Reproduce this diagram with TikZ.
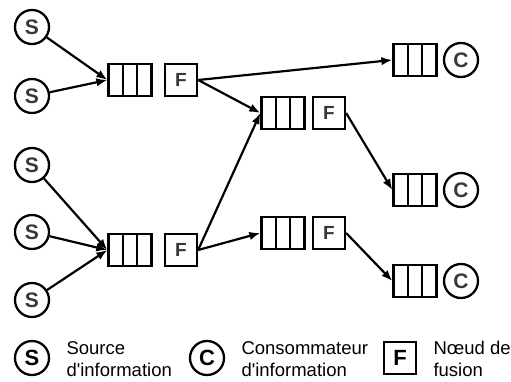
\documentclass[tikz,border=0pt]{standalone}
\usepackage{fontspec}
\setmainfont{Liberation Sans}
\usetikzlibrary{arrows.meta,calc}
\tikzset{
  src/.style={circle,draw,line width=2.3pt,minimum size=34pt,inner sep=0pt,
    font=\fontsize{21}{21}\selectfont\bfseries,text=black!78},
  queue/.style={rectangle,draw,line width=2.3pt,minimum width=43pt,minimum height=32pt,inner sep=0pt,
    path picture={\foreach \f in {1,2}
      \draw[line width=2.3pt] ($(path picture bounding box.south west)!\f/3!(path picture bounding box.south east)$)
        -- ($(path picture bounding box.north west)!\f/3!(path picture bounding box.north east)$);}},
  fus/.style={rectangle,draw,line width=2.3pt,minimum size=32pt,inner sep=0pt,
    font=\fontsize{19}{19}\selectfont\bfseries,text=black!78},
  flow/.style={-{Latex[length=11pt,width=8.5pt]},line width=2.2pt},
  legtext/.style={align=left,anchor=west,font=\fontsize{18.5}{22}\selectfont},
  legsym/.style={text=black,font=\fontsize{22}{22}\selectfont\bfseries}
}
\begin{document}
\begin{tikzpicture}[x=1pt,y=-1pt]
\useasboundingbox (0,0) rectangle (511,381);
% sources
\node[src] (s1) at (32,27) {S};
\node[src] (s2) at (32,96) {S};
\node[src] (s3) at (32,165) {S};
\node[src] (s4) at (32,232) {S};
\node[src] (s5) at (32,300) {S};
% fusion stages
\node[queue] (q1) at (130,80) {};
\node[fus] (f1) at (181,80) {F};
\node[queue] (q2) at (130,250) {};
\node[fus] (f2) at (181,250) {F};
\node[queue] (q3) at (283,113) {};
\node[fus] (f3) at (329,113) {F};
\node[queue] (q4) at (283,233) {};
\node[fus] (f4) at (329,233) {F};
% consumers
\node[queue] (k1) at (415,60) {};
\node[src] (c1) at (461,60) {C};
\node[queue] (k2) at (415,190) {};
\node[src] (c2) at (461,190) {C};
\node[queue] (k3) at (415,281) {};
\node[src] (c3) at (461,281) {C};
% flows
\draw[flow] (s1) -- (q1.west);
\draw[flow] (s2) -- (q1.west);
\draw[flow] (s3) -- (q2.west);
\draw[flow] (s4) -- (q2.west);
\draw[flow] (s5) -- (q2.west);
\draw[flow] (f1.east) -- (k1.west);
\draw[flow] (f1.east) -- (q3.west);
\draw[flow] (f2.east) -- (q3.west);
\draw[flow] (f2.east) -- (q4.west);
\draw[flow] (f3.east) -- (k2.west);
\draw[flow] (f4.east) -- (k3.west);
% legend
\node[src,legsym] (ls) at (32,358) {S};
\node[legtext] (lst) at (63,359) {Source\\d\textquotesingle information};
\node[src,legsym] (lc) at (207,358) {C};
\node[legtext] (lct) at (238,359) {Consommateur\\d\textquotesingle information};
\node[fus,legsym] (lf) at (400,358) {F};
\node[legtext] (lft) at (430,359) {Nœud de\\fusion};
\end{tikzpicture}
\end{document}
